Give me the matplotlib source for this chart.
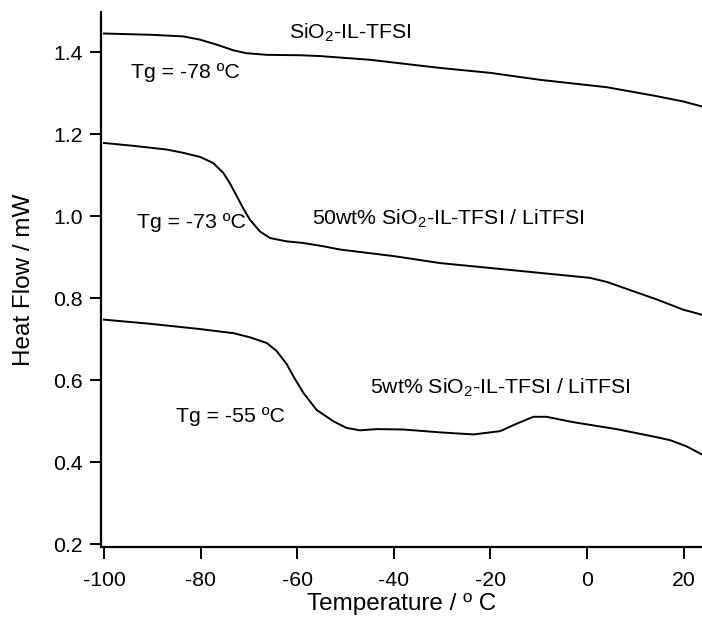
import matplotlib
matplotlib.use("Agg")
import matplotlib.pyplot as plt

plt.rcParams['font.family'] = ['Liberation Sans', 'DejaVu Sans']
plt.rcParams['mathtext.fontset'] = 'custom'
plt.rcParams['mathtext.rm'] = 'Liberation Sans'
plt.rcParams['mathtext.default'] = 'regular'
plt.rcParams['axes.unicode_minus'] = False

# SiO2-IL-TFSI
t_a = [-100.0, -90.5, -83.6, -80.1, -76.7, -73.2, -70.5, -66.3, -59.4, -55.3,
       -45.0, -30.4, -20.0, -9.7, 4.1, 14.5, 20.0, 23.8]
hf_a = [1.446, 1.443, 1.439, 1.431, 1.419, 1.405, 1.398, 1.394, 1.393, 1.391,
        1.382, 1.362, 1.350, 1.333, 1.315, 1.293, 1.280, 1.268]

# 50wt% SiO2-IL-TFSI / LiTFSI
t_b = [-100.0, -93.9, -87.0, -83.6, -80.1, -77.4, -75.3, -73.9, -72.5, -71.2,
       -69.8, -67.7, -65.6, -62.2, -58.7, -54.6, -51.1, -40.0, -30.4, -20.0,
       -9.7, 0.6, 4.1, 7.5, 14.5, 20.0, 23.8]
hf_b = [1.179, 1.172, 1.163, 1.155, 1.145, 1.130, 1.106, 1.080, 1.049, 1.020,
        0.992, 0.963, 0.947, 0.939, 0.935, 0.927, 0.919, 0.903, 0.886, 0.874,
        0.862, 0.850, 0.840, 0.826, 0.797, 0.772, 0.760]

# 5wt% SiO2-IL-TFSI / LiTFSI
t_c = [-100.0, -90.5, -80.1, -73.2, -69.8, -66.3, -64.3, -62.2, -60.8, -58.7,
       -56.0, -52.5, -49.8, -47.0, -43.5, -38.0, -30.4, -23.5, -18.0, -14.6,
       -11.1, -8.4, -2.9, 6.1, 13.7, 17.2, 20.6, 23.8]
hf_c = [0.748, 0.738, 0.725, 0.715, 0.705, 0.691, 0.672, 0.640, 0.610, 0.569,
        0.528, 0.500, 0.484, 0.478, 0.481, 0.480, 0.473, 0.468, 0.476, 0.494,
        0.511, 0.511, 0.498, 0.481, 0.463, 0.454, 0.439, 0.419]

labels = ['SiO$_2$-IL-TFSI', 'Tg = -78 ºC',
          'Tg = -73 ºC', '50wt% SiO$_2$-IL-TFSI / LiTFSI',
          'Tg = -55 ºC', '5wt% SiO$_2$-IL-TFSI / LiTFSI']
label_x = [-49.1, -83.2, -81.9, -28.8, -73.9, -18.0]
label_y = [1.448, 1.350, 0.984, 0.994, 0.512, 0.582]

fig = plt.figure(figsize=(7.02, 6.17), dpi=100)
ax = fig.add_axes([101 / 702, 70 / 617, 601 / 702, 535 / 617])

for t, hf in [(t_a, hf_a), (t_b, hf_b), (t_c, hf_c)]:
    ax.plot(t, hf, color='black', lw=1.4)

for s, x, y in zip(labels, label_x, label_y):
    ax.text(x, y, s, fontsize=15.3, ha='center', va='center')

ax.set_xlim(-100.62, 23.8)
ax.set_ylim(0.1934, 1.4985)
ax.set_xticks([-100, -80, -60, -40, -20, 0, 20])
ax.set_yticks([0.2, 0.4, 0.6, 0.8, 1.0, 1.2, 1.4])
ax.set_yticklabels(['0.2', '0.4', '0.6', '0.8', '1.0', '1.2', '1.4'])

ax.spines['top'].set_visible(False)
ax.spines['right'].set_visible(False)
ax.spines['left'].set_linewidth(1.6)
ax.spines['bottom'].set_linewidth(1.6)
ax.tick_params(axis='both', direction='out', width=1.4, labelsize=15.3)
ax.tick_params(axis='y', length=8, pad=5)
ax.tick_params(axis='x', length=8.6, pad=9)

ax.set_xlabel('Temperature / º C', fontsize=17.5, labelpad=2)
ax.set_ylabel('Heat Flow / mW', fontsize=17.5, labelpad=13)

fig.savefig('out.png', dpi=100)
